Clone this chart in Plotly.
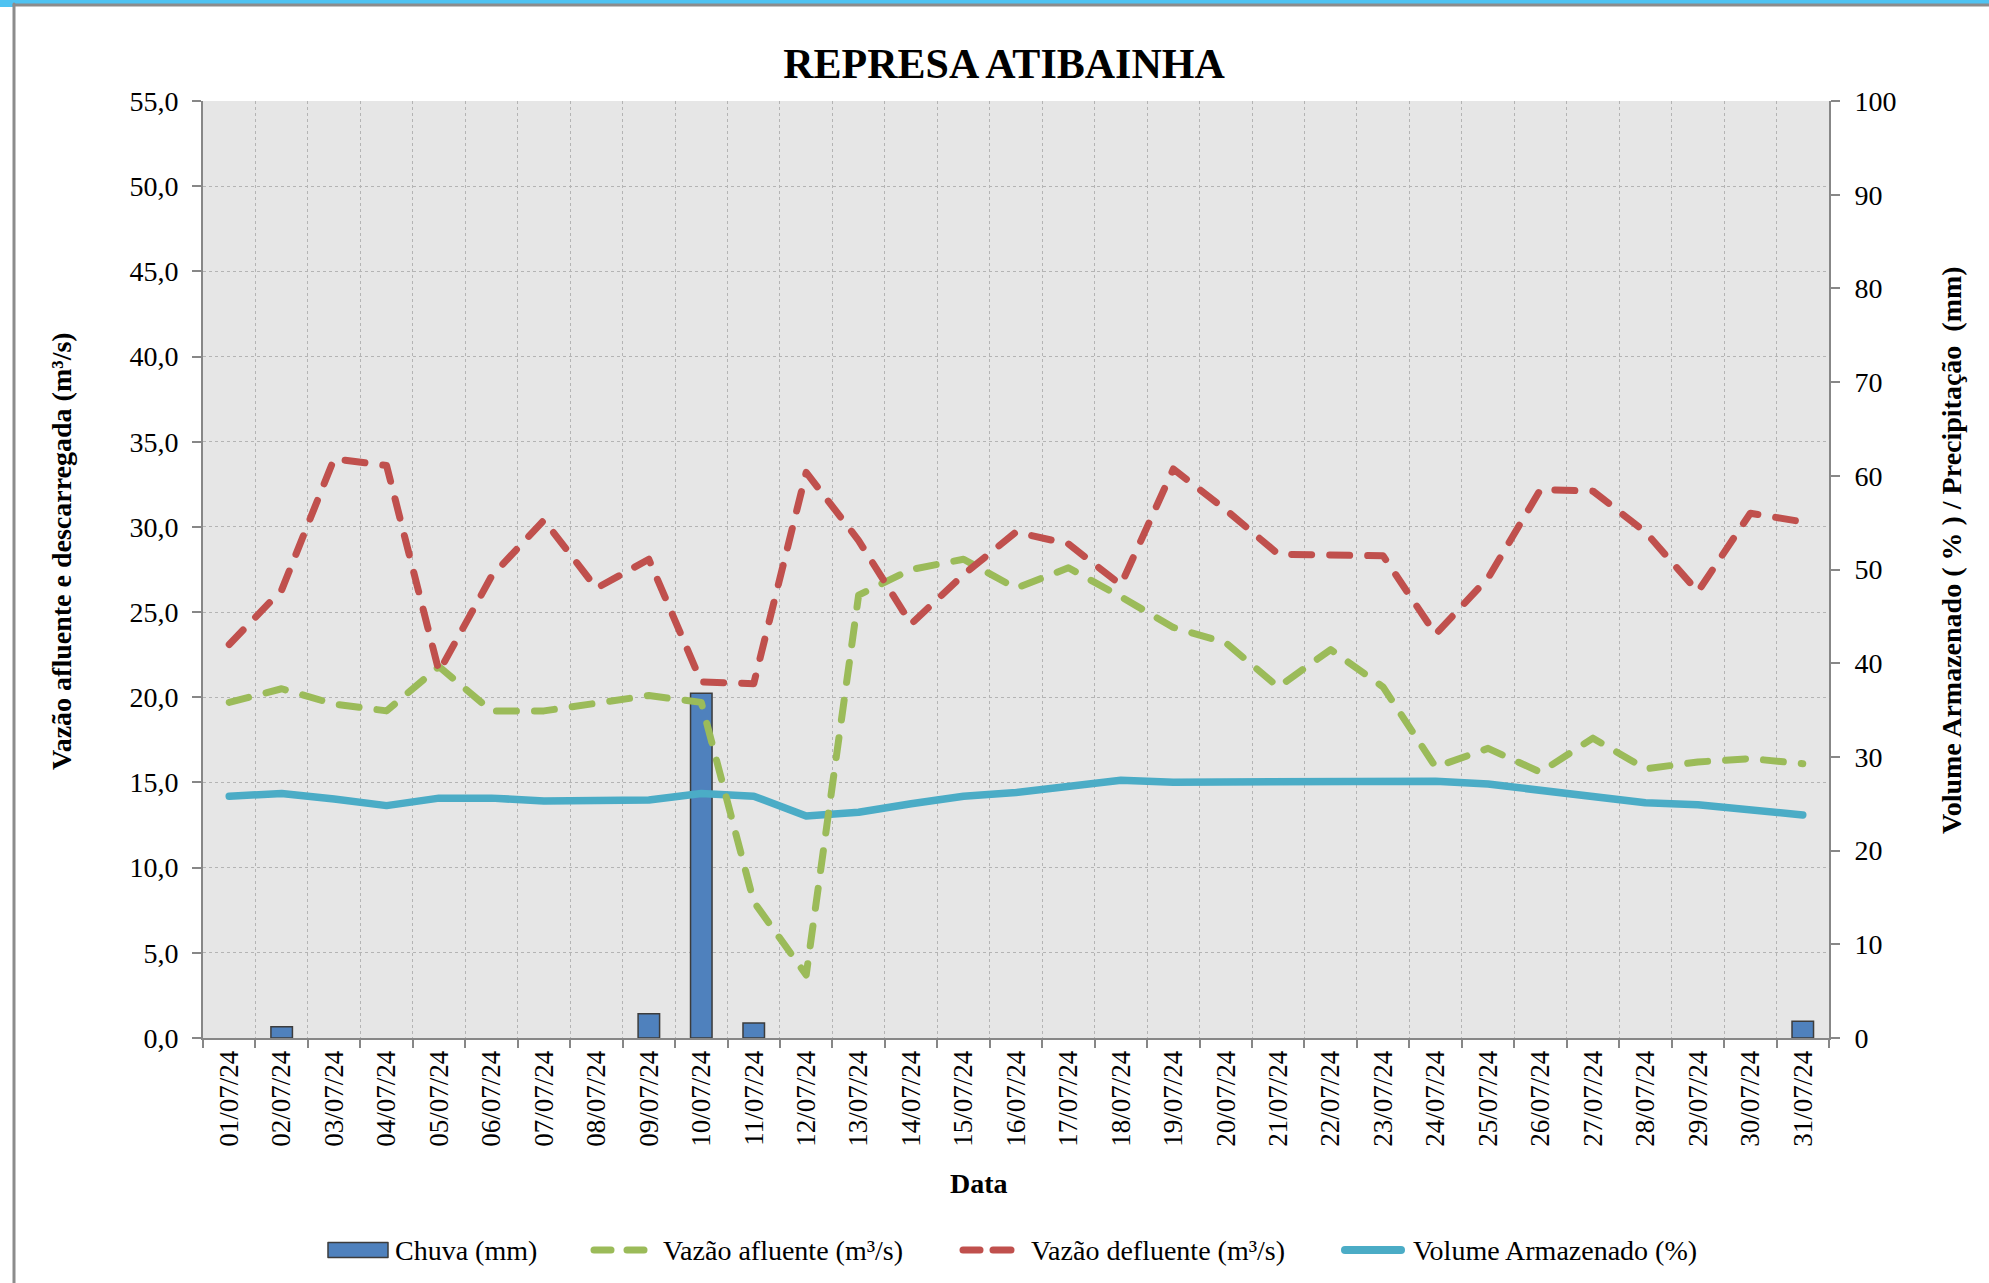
import plotly.graph_objects as go

# ---------------- data ----------------
dates = ["01/07/24", "02/07/24", "03/07/24", "04/07/24", "05/07/24", "06/07/24", "07/07/24",
         "08/07/24", "09/07/24", "10/07/24", "11/07/24", "12/07/24", "13/07/24", "14/07/24",
         "15/07/24", "16/07/24", "17/07/24", "18/07/24", "19/07/24", "20/07/24", "21/07/24",
         "22/07/24", "23/07/24", "24/07/24", "25/07/24", "26/07/24", "27/07/24", "28/07/24",
         "29/07/24", "30/07/24", "31/07/24"]

chuva_mm = [0, 1.2, 0, 0, 0, 0, 0, 0, 2.6, 36.8, 1.6, 0, 0, 0, 0, 0, 0, 0, 0, 0, 0,
            0, 0, 0, 0, 0, 0, 0, 0, 0, 1.8]

vazao_afluente = [19.7, 20.5, 19.6, 19.2, 21.8, 19.2, 19.2, 19.7, 20.1, 19.7, 8.0, 3.7,
                  26.0, 27.5, 28.1, 26.4, 27.6, 25.9, 24.1, 23.2, 20.6, 22.8, 20.6, 15.9,
                  17.0, 15.6, 17.6, 15.8, 16.2, 16.4, 16.1]

vazao_defluente = [23.1, 26.3, 34.0, 33.6, 21.5, 27.1, 30.4, 26.4, 28.1, 20.9, 20.8, 33.2,
                   29.2, 24.3, 27.2, 29.7, 29.0, 26.6, 33.4, 31.0, 28.4, 28.4, 28.3, 23.7,
                   27.0, 32.2, 32.1, 29.7, 26.2, 30.8, 30.3]

volume_pct = [25.8, 26.1, 25.5, 24.8, 25.6, 25.6, 25.3, 25.4, 25.4, 26.1, 25.8, 23.7,
              24.1, 25.0, 25.8, 26.2, 26.8, 27.5, 27.3, 27.3, 27.3, 27.4, 27.4, 27.4,
              27.1, 26.4, 25.8, 25.1, 24.9, 24.4, 23.8]

left_ticks = [0, 5, 10, 15, 20, 25, 30, 35, 40, 45, 50, 55]
right_ticks = [0, 10, 20, 30, 40, 50, 60, 70, 80, 90, 100]

series_names = ["Chuva (mm)", "Vazão afluente (m³/s)", "Vazão defluente (m³/s)",
                "Volume Armazenado (%)"]

# ---------------- layout geometry ----------------
W, H = 1989, 1283
ML, MR, MT, MB = 203, 160, 101, 245
PW = W - ML - MR
PH = H - MT - MB


def px_x(px):
    return (px - ML) / PW


def px_y(py):
    return 1 - (py - MT) / PH


FONT = "Liberation Serif, Times New Roman, serif"
GRID = "#B4B4B4"
AXIS = "#878787"
C_BAR, C_BAR_EDGE = "#4F81BD", "#3C3C3C"
C_AFL, C_DEF, C_VOL = "#9BBB59", "#C0504D", "#4BACC6"
DASH = "20px,18px"
TICKFONT = dict(family=FONT, size=28, color="black")

fig = go.Figure()

# rain bars (days without rain draw nothing)
chuva_plot = [v if v > 0 else None for v in chuva_mm]
fig.add_trace(go.Bar(
    x=dates, y=chuva_plot, name=series_names[0], yaxis="y", width=0.41,
    marker=dict(color=C_BAR, line=dict(color=C_BAR_EDGE, width=1.5)),
))
fig.add_trace(go.Scatter(
    x=dates, y=volume_pct, name=series_names[3], yaxis="y", mode="lines",
    line=dict(color=C_VOL, width=7.5),
))
fig.add_trace(go.Scatter(
    x=dates, y=vazao_afluente, name=series_names[1], yaxis="y2", mode="lines",
    line=dict(color=C_AFL, width=7, dash=DASH),
))
fig.add_trace(go.Scatter(
    x=dates, y=vazao_defluente, name=series_names[2], yaxis="y2", mode="lines",
    line=dict(color=C_DEF, width=7, dash=DASH),
))

fig.update_layout(
    width=W, height=H,
    margin=dict(l=ML, r=MR, t=MT, b=MB, autoexpand=False),
    paper_bgcolor="white", plot_bgcolor="#E6E6E6",
    separators=",.",
    font=dict(family=FONT, size=26, color="black"),
    title=dict(text="REPRESA ATIBAINHA", x=1004 / W, xref="container", xanchor="center",
               y=1 - 63 / H, yref="container", yanchor="middle",
               font=dict(family=FONT, size=42, color="black", weight="bold")),
    xaxis=dict(type="category", tickson="boundaries", ticks="outside", ticklen=8,
               tickcolor=AXIS, tickwidth=2, showline=True, linecolor=AXIS, linewidth=2,
               showgrid=True, gridcolor=GRID, griddash="dot", gridwidth=1,
               tickangle=-90, tickfont=dict(family=FONT, size=27, color="black"),
               zeroline=False),
    yaxis=dict(side="right", range=[0, 100], tickvals=right_ticks, tickformat="d",
               ticks="outside", ticklen=9, tickcolor=AXIS, tickwidth=2,
               showline=True, linecolor=AXIS, linewidth=2, showgrid=False, zeroline=False,
               ticklabelstandoff=9, tickfont=TICKFONT),
    yaxis2=dict(side="left", overlaying="y", anchor="x", range=[0, 55], tickvals=left_ticks,
                tickformat=".1f", ticks="outside", ticklen=9, tickcolor=AXIS, tickwidth=2,
                showline=True, linecolor=AXIS, linewidth=2, showgrid=True,
                gridcolor=GRID, griddash="dot", gridwidth=1, zeroline=False,
                ticklabelstandoff=8, tickfont=TICKFONT),
    showlegend=False,
    bargap=0.5,
)

# axis titles
fig.add_annotation(text="Vazão afluente e descarregada (m³/s)", xref="paper", yref="paper",
                   x=px_x(61), y=px_y(551), textangle=-90, showarrow=False,
                   xanchor="center", yanchor="middle",
                   font=dict(family=FONT, size=28, color="black", weight="bold"))
fig.add_annotation(text="Volume Armazenado ( % ) / Precipitação \u00a0(mm)", xref="paper",
                   yref="paper", x=px_x(1951), y=px_y(550), textangle=-90, showarrow=False,
                   xanchor="center", yanchor="middle",
                   font=dict(family=FONT, size=28, color="black", weight="bold"))
fig.add_annotation(text="Data", xref="paper", yref="paper", x=px_x(979), y=px_y(1183),
                   showarrow=False, xanchor="center", yanchor="middle",
                   font=dict(family=FONT, size=28, color="black", weight="bold"))

# ---------------- legend (drawn below the chart) ----------------
LEG_Y = 1250
# Chuva: filled box
fig.add_shape(type="rect", xref="paper", yref="paper", x0=px_x(328), x1=px_x(388),
              y0=px_y(LEG_Y + 7.5), y1=px_y(LEG_Y - 7.5),
              fillcolor=C_BAR, line=dict(color=C_BAR_EDGE, width=1.5))
# dashed symbols (two dashes each)
for (a, b), col in [((594, 611), C_AFL), ((627, 644), C_AFL),
                    ((963, 980), C_DEF), ((993, 1011), C_DEF)]:
    fig.add_shape(type="line", xref="paper", yref="paper", x0=px_x(a), x1=px_x(b),
                  y0=px_y(LEG_Y), y1=px_y(LEG_Y), line=dict(color=col, width=7))
# volume: solid
fig.add_shape(type="line", xref="paper", yref="paper", x0=px_x(1345), x1=px_x(1401),
              y0=px_y(LEG_Y), y1=px_y(LEG_Y), line=dict(color=C_VOL, width=8))
for name, tx in zip(series_names, [393, 661, 1029, 1411]):
    fig.add_annotation(text=name, xref="paper", yref="paper", x=px_x(tx), y=px_y(LEG_Y),
                       showarrow=False, xanchor="left", yanchor="middle",
                       font=dict(family=FONT, size=28, color="black"))

# outer frame decorations
fig.add_shape(type="rect", xref="paper", yref="paper", x0=px_x(0), x1=px_x(W),
              y0=px_y(4), y1=px_y(0), line=dict(width=0), fillcolor="#4FC3F2", layer="above")
fig.add_shape(type="rect", xref="paper", yref="paper", x0=px_x(0), x1=px_x(13),
              y0=px_y(7), y1=px_y(0), line=dict(width=0), fillcolor="#4FC3F2", layer="above")
fig.add_shape(type="line", xref="paper", yref="paper", x0=px_x(14), x1=px_x(W),
              y0=px_y(5), y1=px_y(5), line=dict(color="#8C8C8C", width=3))
fig.add_shape(type="line", xref="paper", yref="paper", x0=px_x(14), x1=px_x(14),
              y0=px_y(4), y1=px_y(H), line=dict(color="#8C8C8C", width=3))

post = """
document.body.style.margin = '0';
document.body.style.padding = '0';
var gd = document.getElementById('{plot_id}');
function caps(){
  gd.querySelectorAll('.scatterlayer .js-line, .shapelayer path').forEach(function(p){
    p.style.strokeLinecap = 'round'; p.style.strokeLinejoin = 'round';
  });
}
caps();
gd.on('plotly_afterplot', caps);
"""

fig.write_html("out.html", post_script=post, config={"displayModeBar": False})
